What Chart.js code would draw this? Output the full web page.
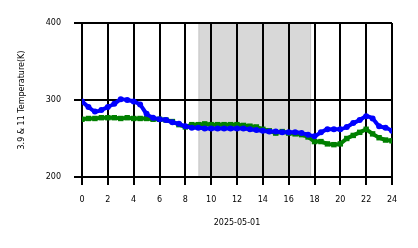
<!DOCTYPE html>
<html>
<head>
<meta charset="utf-8">
<script src="https://cdn.jsdelivr.net/npm/chart.js@4/dist/chart.umd.min.js"></script>
<style>
  html, body { margin: 0; padding: 0; background: #fff; }
  #grafico { display: block; }
</style>
</head>
<body>
<canvas id="grafico" width="418" height="248"></canvas>
<script>
// horas do dia (0..24, passo de meia hora)
const horas = [0, 0.5, 1, 1.5, 2, 2.5, 3, 3.5, 4, 4.5, 5, 5.5, 6, 6.5, 7, 7.5, 8, 8.5, 9, 9.5,
  10, 10.5, 11, 11.5, 12, 12.5, 13, 13.5, 14, 14.5, 15, 15.5, 16, 16.5, 17, 17.5, 18, 18.5,
  19, 19.5, 20, 20.5, 21, 21.5, 22, 22.5, 23, 23.5, 24];

// temperatura de brilho 3.9 (azul) e 11 (verde), em K
const temp39 = [298, 291, 285, 287, 291, 295, 301, 300, 298, 294, 282, 277, 275, 274, 271, 269, 266, 264, 264, 263,
  263, 263, 263, 263, 263, 263, 262, 261, 260, 259, 259, 258, 258, 258, 257, 255, 253, 258,
  262, 262, 262, 265, 270, 274, 279, 276, 266, 264, 260];
const temp11 = [275, 276, 276, 277, 277, 277, 276, 277, 276, 276, 276, 275, 275, 274, 272, 268, 265, 268, 268, 269,
  268, 268, 268, 268, 268, 267, 266, 265, 262, 260, 257, 259, 257, 256, 255, 252, 246, 246,
  243, 242, 243, 250, 254, 258, 262, 256, 251, 248, 247];

// faixa sombreada (horas)
const faixaInicio = 9.05;
const faixaFim = 17.7;

const xTicks = [0, 2, 4, 6, 8, 10, 12, 14, 16, 18, 20, 22, 24];
const yTicks = [200, 300, 400];

const fonte = { family: "DejaVu Sans", size: 8 };

const faixaPlugin = {
  id: "faixa",
  beforeDraw(chart) {
    const { ctx, chartArea, scales } = chart;
    const x0 = scales.x.getPixelForValue(faixaInicio);
    const x1 = scales.x.getPixelForValue(faixaFim);
    ctx.save();
    ctx.fillStyle = "#d8d8d8";
    ctx.fillRect(x0, chartArea.top, x1 - x0, chartArea.bottom - chartArea.top);
    ctx.strokeStyle = "#c4c4c4";
    ctx.lineWidth = 1;
    ctx.strokeRect(x0, chartArea.top, x1 - x0, chartArea.bottom - chartArea.top);
    ctx.restore();
  }
};

new Chart(document.getElementById("grafico"), {
  type: "line",
  data: {
    datasets: [
      {
        label: "3.9",
        data: horas.map((h, i) => ({ x: h, y: temp39[i] })),
        borderColor: "#0000ff",
        backgroundColor: "#0000ff",
        borderWidth: 4,
        pointRadius: 1,
        pointStyle: "circle",
        tension: 0.2
      },
      {
        label: "11",
        data: horas.map((h, i) => ({ x: h, y: temp11[i] })),
        borderColor: "#008000",
        backgroundColor: "#008000",
        borderWidth: 4,
        pointRadius: 1,
        pointStyle: "rect",
        tension: 0
      }
    ]
  },
  options: {
    responsive: false,
    animation: false,
    layout: { padding: { top: 23, right: 26, left: 17, bottom: 0 } },
    plugins: {
      legend: { display: false },
      tooltip: { enabled: false }
    },
    scales: {
      x: {
        type: "linear",
        min: 0,
        max: 24,
        afterBuildTicks: s => { s.ticks = xTicks.map(v => ({ value: v })); },
        afterFit: s => { s.height = 71; },
        ticks: { color: "#000", font: fonte, padding: 10, maxRotation: 0 },
        grid: { color: "#000", lineWidth: 2, tickLength: 8, tickColor: "#000" },
        border: { color: "#000", width: 2 },
        title: { display: true, text: "2025-05-01", color: "#000", font: fonte, padding: { top: 6, bottom: 20 } }
      },
      y: {
        min: 200,
        max: 400,
        afterBuildTicks: s => { s.ticks = yTicks.map(v => ({ value: v })); },
        afterFit: s => { s.width = 65; },
        ticks: { color: "#000", font: fonte, padding: 13 },
        grid: { color: "#000", lineWidth: 2, tickLength: 8, tickColor: "#000" },
        border: { color: "#000", width: 2 },
        title: { display: true, text: "3.9 & 11 Temperature(K)", color: "#000", font: fonte, padding: { top: 0, bottom: 0 } }
      }
    }
  },
  plugins: [faixaPlugin]
});
</script>
</body>
</html>
